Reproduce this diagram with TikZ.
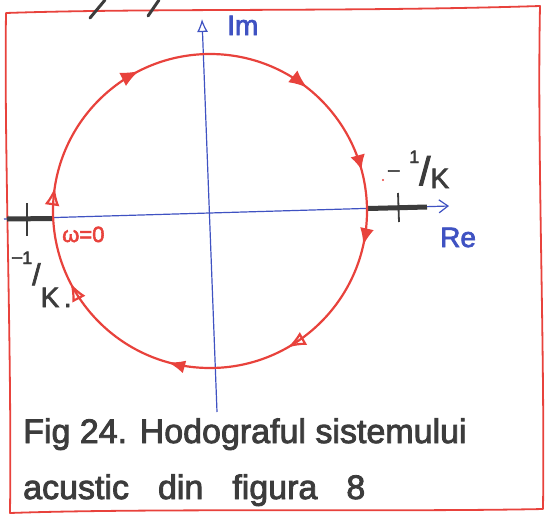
\documentclass[tikz,border=0pt]{standalone}
\usepackage{fontspec}
\setmainfont{Liberation Sans}
\newfontfamily\penfont{Liberation Sans}[FakeBold=2.5]
\usepackage{graphicx}
\usetikzlibrary{arrows.meta,decorations.markings}
\definecolor{penred}{HTML}{E8423C}
\definecolor{penblue}{HTML}{3F52C2}
\definecolor{pengray}{HTML}{3C3C3C}
\begin{document}
\begin{tikzpicture}[x=1pt,y=-1pt,
  frame/.style={penred, line width=1.8pt, line join=round},
  axis/.style={penblue, line width=1.2pt},
  curve/.style={penred, line width=2.2pt},
  thickseg/.style={pengray, line width=5pt},
  tickmark/.style={pengray, line width=1.8pt},
  stroke/.style={pengray, line width=3pt, line cap=round},
  lbl/.style={inner sep=0pt, anchor=base west, font=\penfont\fontsize{28}{30}\selectfont},
  captext/.style={inner sep=0pt, anchor=base west, pengray, font=\penfont\fontsize{34}{36}\selectfont}
]
\useasboundingbox (0,0) rectangle (548,517);

% frame
\draw[frame] (6,13) .. controls (150,8) and (350,12) .. (540,6)
  .. controls (537,150) and (545,350) .. (543,509)
  .. controls (400,512) and (150,508) .. (10,513)
  .. controls (12,350) and (4,150) .. cycle;

% stray strokes from the text above
\draw[stroke] (90,18) -- (105,0);
\draw[stroke] (148,16) -- (159,0);

% axes
\coordinate (xa) at (4,219);
\coordinate (xb) at (449,206);
\coordinate (ya) at (217,412);
\coordinate (yb) at (202,19);
\draw[axis, -{Straight Barb[length=9pt,width=13pt]}] (xa) -- (xb);
\draw[axis, -{Latex[open,length=13pt,width=11pt]}] (ya) -- (yb);

% thick segments on the real axis
\coordinate (la) at (7,219);
\coordinate (lb) at (53,218.5);
\coordinate (ra) at (368,208.5);
\coordinate (rb) at (427,207);
\draw[thickseg] (la) -- (lb);
\draw[thickseg] (ra) -- (rb);
\draw[tickmark] (27,203) -- (27,236);
\draw[tickmark] (398,193) -- (399,222);

% hodograph circle, clockwise
\draw[curve, postaction={decorate}, decoration={markings,
  mark=at position 0.035 with {\arrow{Latex[length=17pt,width=14pt]}},
  mark=at position 0.1675 with {\arrow{Latex[open,length=18pt,width=15pt]}},
  mark=at position 0.293 with {\arrow{Latex[length=17pt,width=13pt]}},
  mark=at position 0.424 with {\arrow{Latex[open,length=18pt,width=15pt]}},
  mark=at position 0.524 with {\arrow{Latex[open,length=18pt,width=15pt]}},
  mark=at position 0.675 with {\arrow{Latex[length=18pt,width=15pt]}},
  mark=at position 0.856 with {\arrow{Latex[length=18pt,width=15pt]}},
  mark=at position 0.958 with {\arrow{Latex[length=15pt,width=15pt]}}
  }] (210,211) ++(0:157) arc[start angle=0, end angle=360, radius=157];
\fill[penred] (383,180) circle (1.2);

% labels
\node[lbl, penblue] (im) at (227,35) {Im};
\node[lbl, penblue] (re) at (440,247) {Re};
\node[lbl, penred, font=\penfont\fontsize{22}{24}\selectfont] (w0) at (62,242) {ω=0};
\node[lbl, pengray] (kr) at (388,188)
  {\raisebox{12pt}{\fontsize{20}{20}\selectfont –}\hspace{10pt}%
   \raisebox{25pt}{\fontsize{18}{18}\selectfont 1}%
   \raisebox{3pt}{\fontsize{40}{40}\selectfont /}%
   K};
\node[lbl, pengray] (kl) at (12,307)
  {\raisebox{44.5pt}{\fontsize{18}{18}\selectfont –}%
   \raisebox{43pt}{\fontsize{18}{18}\selectfont 1}%
   \raisebox{22pt}{\fontsize{30}{30}\selectfont /}%
   K\,.};

% caption
\node[captext] (c1) at (23,443) {Fig 24. Hodograful sistemului};
\node[captext] (c2) at (23,499) {\spaceskip=29pt acustic din figura 8};
\end{tikzpicture}
\end{document}
